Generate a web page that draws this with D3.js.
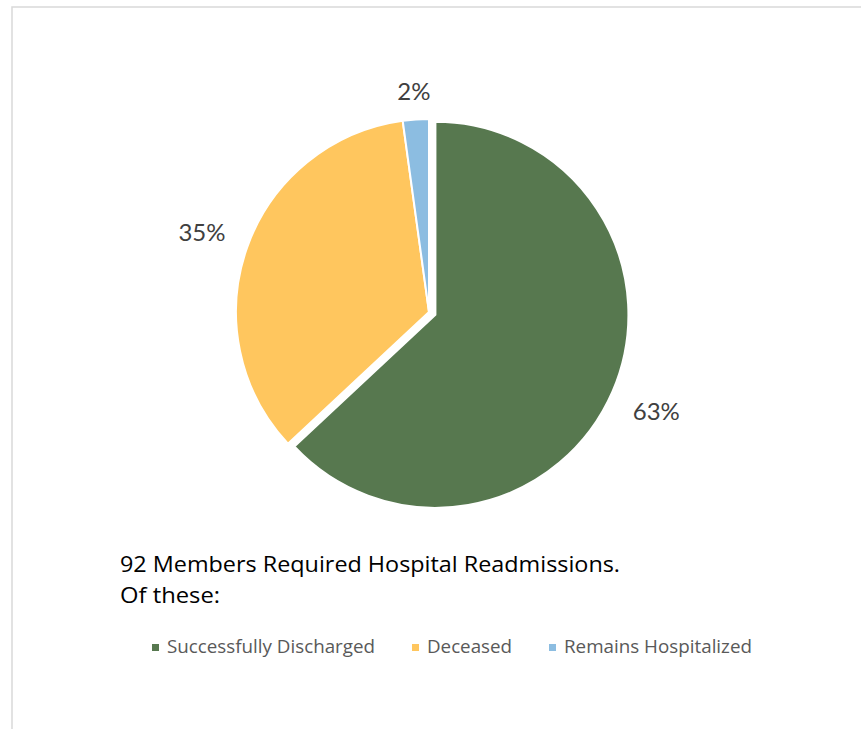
<!DOCTYPE html>
<meta charset="utf-8">
<style>
body {
  margin: 0;
  background: #fff;
  overflow: hidden;
}
text {
  font-family: Lato, "Open Sans", sans-serif;
}
.caption {
  font-family: "Open Sans", Lato, sans-serif;
}
</style>
<svg width="861" height="729"></svg>
<script src="https://d3js.org/d3.v7.min.js"></script>
<script>
// 92 readmissions, split by outcome
const categories = ["Successfully Discharged", "Deceased", "Remains Hospitalized"];
const counts = [58, 32, 2];
const colors = ["#57784f", "#ffc65e", "#8cbde1"];
const titleLines = ["92 Members Required Hospital Readmissions.", "Of these:"];

const width = 861, height = 729;
const cx = 429, cy = 312, radius = 193;
const explode = [7, 0, 0];

const svg = d3.select("svg");

// chart area frame (only left and top edges visible)
svg.append("path")
  .attr("d", `M12,${height} V7 H${width}`)
  .attr("fill", "none")
  .attr("stroke", "#d9d9d9")
  .attr("stroke-width", 1.5);

const total = d3.sum(counts);
const data = categories.map((c, i) => ({ name: c, value: counts[i], color: colors[i], explode: explode[i] }));

const pie = d3.pie().value(d => d.value).sort(null);
const arc = d3.arc().innerRadius(0).outerRadius(radius);
const arcs = pie(data);

const g = svg.append("g").attr("transform", `translate(${cx},${cy})`);

g.selectAll("path.slice")
  .data(arcs)
  .join("path")
  .attr("class", "slice")
  .attr("d", arc)
  .attr("fill", d => d.data.color)
  .attr("stroke", "#fff")
  .attr("stroke-width", 2)
  .attr("stroke-linejoin", "round")
  .attr("transform", d => {
    const a = (d.startAngle + d.endAngle) / 2;
    return `translate(${Math.sin(a) * d.data.explode},${-Math.cos(a) * d.data.explode})`;
  });

// percentage labels, outside end
const labels = g.selectAll("text.lbl")
  .data(arcs)
  .join("text")
  .attr("class", "lbl")
  .attr("text-anchor", "middle")
  .attr("dominant-baseline", "central")
  .attr("font-size", 24)
  .attr("fill", "#404040")
  .text(d => d3.format(".0%")(d.data.value / total));

labels.each(function(d) {
  const a = (d.startAngle + d.endAngle) / 2;
  const w = this.getComputedTextLength();
  const h = 18;
  const r = radius + d.data.explode + 19 + Math.abs(Math.sin(a)) * (w / 2 + 4) + Math.abs(Math.cos(a)) * h / 2;
  d3.select(this)
    .attr("x", Math.sin(a) * r)
    .attr("y", -Math.cos(a) * r);
});

// title block under the pie
const titleWidths = [500, 100];
svg.append("text")
  .attr("class", "caption")
  .attr("x", 120)
  .attr("y", 572)
  .attr("font-size", 21)
  .attr("fill", "#000")
  .selectAll("tspan")
  .data(titleLines)
  .join("tspan")
  .attr("x", 120)
  .attr("dy", (d, i) => i ? 31 : 0)
  .attr("textLength", (d, i) => titleWidths[i])
  .attr("lengthAdjust", "spacingAndGlyphs")
  .text(d => d);

// legend
const legendX = [152, 412, 549];
const legendW = [208, 85, 188];
const legend = svg.append("g").attr("transform", "translate(0,653)");
const item = legend.selectAll("g")
  .data(data)
  .join("g")
  .attr("transform", (d, i) => `translate(${legendX[i]},0)`);

item.append("rect")
  .attr("x", 0)
  .attr("y", -9)
  .attr("width", 7)
  .attr("height", 7)
  .attr("fill", d => d.color);

item.append("text")
  .attr("class", "caption")
  .attr("x", 15)
  .attr("y", 0)
  .attr("font-size", 18)
  .attr("fill", "#595959")
  .attr("textLength", (d, i) => legendW[i])
  .attr("lengthAdjust", "spacingAndGlyphs")
  .text(d => d.name);
</script>
